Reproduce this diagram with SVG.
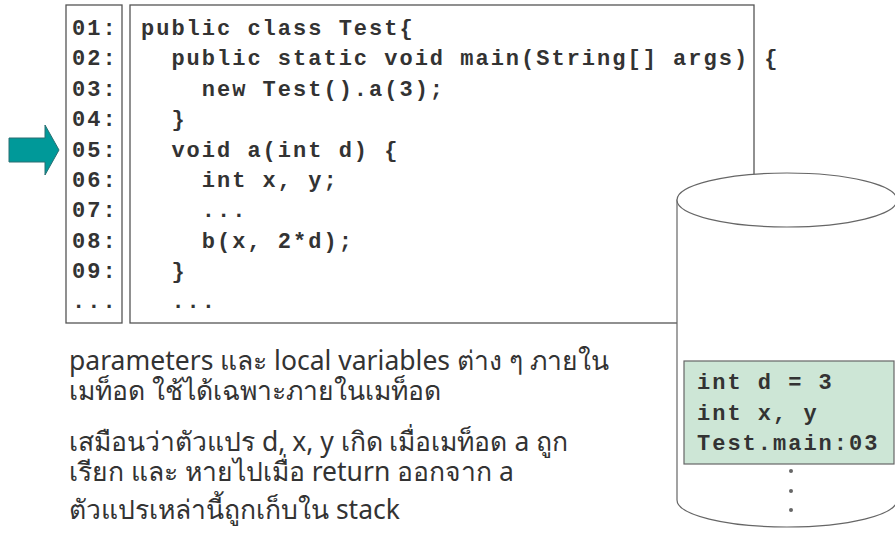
<svg xmlns="http://www.w3.org/2000/svg" width="895" height="541" viewBox="0 0 895 541">
<style>
.box{fill:#fff;stroke:#555;stroke-width:1.3}
.code{font-family:"Liberation Mono","Courier New",monospace;font-weight:bold;font-size:22px;letter-spacing:2px;fill:#333;white-space:pre}
.body{font-family:"Noto Sans","DejaVu Sans",sans-serif;font-size:26.5px;fill:#333}
.cyl{fill:#fff;stroke:#666;stroke-width:1.2}
</style>
<rect width="895" height="541" fill="#fff"/>
<g id="arrow">
<polygon points="9,138 45,138 45,125 59,150 45,175 45,162 9,162" fill="#009999" stroke="#2a6f73" stroke-width="1"/>
</g>
<g id="line-numbers">
<rect class="box" x="66" y="5" width="56" height="318"/>
<text class="code" x="72" y="35">01:</text>
<text class="code" x="72" y="65">02:</text>
<text class="code" x="72" y="96">03:</text>
<text class="code" x="72" y="126">04:</text>
<text class="code" x="72" y="157">05:</text>
<text class="code" x="72" y="187">06:</text>
<text class="code" x="72" y="217">07:</text>
<text class="code" x="72" y="248">08:</text>
<text class="code" x="72" y="278">09:</text>
<text class="code" x="72" y="308">...</text>
</g>
<g id="code">
<rect class="box" x="130" y="5" width="624" height="318"/>
<text class="code" x="141" y="35">public class Test{</text>
<text class="code" x="141" y="65">  public static void main(String[] args) {</text>
<text class="code" x="141" y="96">    new Test().a(3);</text>
<text class="code" x="141" y="126">  }</text>
<text class="code" x="141" y="157">  void a(int d) {</text>
<text class="code" x="141" y="187">    int x, y;</text>
<text class="code" x="141" y="217">    ...</text>
<text class="code" x="141" y="248">    b(x, 2*d);</text>
<text class="code" x="141" y="278">  }</text>
<text class="code" x="141" y="308">  ...</text>
</g>
<g id="stack">
<path class="cyl" d="M677,200 L677,500 A110,27 0 0 0 897,500 L897,200 Z"/>
<ellipse class="cyl" cx="787" cy="200" rx="110" ry="27"/>
<rect x="684" y="361" width="210" height="103" fill="#cde6d6" stroke="#666" stroke-width="1.2"/>
<text class="code" x="697" y="389">int d = 3</text>
<text class="code" x="697" y="420">int x, y</text>
<text class="code" x="697" y="450">Test.main:03</text>
<circle cx="791" cy="471" r="2" fill="#666"/>
<circle cx="791" cy="491" r="2" fill="#666"/>
<circle cx="791" cy="510" r="2" fill="#666"/>
</g>
<g id="notes">
<text class="body"><tspan x="69" y="370">parameters และ local variables ต่าง ๆ ภายใน</tspan><tspan x="69" y="400">เมท็อด ใช้ได้เฉพาะภายในเมท็อด</tspan></text>
<text class="body"><tspan x="69" y="451">เสมือนว่าตัวแปร d, x, y เกิด เมื่อเมท็อด a ถูก</tspan><tspan x="69" y="481">เรียก และ หายไปเมื่อ return ออกจาก a</tspan></text>
<text class="body" x="69" y="519">ตัวแปรเหล่านี้ถูกเก็บใน stack</text>
</g>
</svg>
